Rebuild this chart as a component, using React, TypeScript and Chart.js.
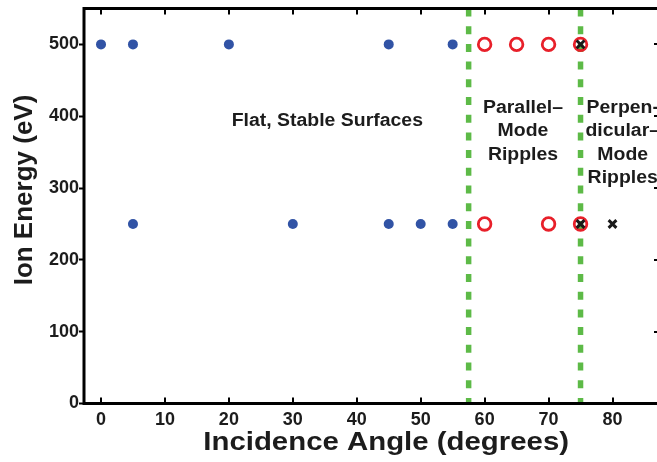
import React, { useEffect, useRef } from "react";
import { Chart, registerables } from "chart.js";

Chart.register(...registerables);

// ---- data ----
const stableAngles500 = [0, 5, 20, 45, 55];
const stableAngles250 = [5, 30, 45, 50, 55];
const parallelAngles500 = [60, 65, 70, 75];
const parallelAngles250 = [60, 70, 75];
const perpAngles500 = [75];
const perpAngles250 = [75, 80];
const boundaryAngles = [57.5, 75];
const xTickValues = [0, 10, 20, 30, 40, 50, 60, 70, 80];
const yTickValues = [0, 100, 200, 300, 400, 500];
const xRange = [-2.66, 86.96];
const yRange = [0, 550];

const xTitle = "Incidence Angle (degrees)";
const yTitle = "Ion Energy (eV)";
const annotations = [
  { lines: ["Flat, Stable Surfaces"], x: 35.4, y: 386 },
  { lines: ["Parallel\u2013", "Mode", "Ripples"], x: 66, y: 404.5 },
  { lines: ["Perpen-", "dicular\u2013", "Mode", "Ripples"], x: 81.6, y: 404.5 },
];

const FONT = '"Liberation Sans", Arial, Helvetica, sans-serif';
const TEXT = "#1c1c1c";

const pts = (xs: number[], y: number) => xs.map((x) => ({ x, y }));

const decorPlugin = {
  id: "decor",
  afterDraw(chart: any) {
    const ctx = chart.ctx as CanvasRenderingContext2D;
    const { left, right, top, bottom } = chart.chartArea;
    const xs = chart.scales.x;
    const ys = chart.scales.y;
    ctx.save();
    // inside ticks
    ctx.strokeStyle = "#000";
    ctx.lineWidth = 2;
    ctx.beginPath();
    for (const v of xTickValues) {
      const px = Math.round(xs.getPixelForValue(v));
      ctx.moveTo(px, bottom);
      ctx.lineTo(px, bottom - 6);
      ctx.moveTo(px, top);
      ctx.lineTo(px, top + 6);
    }
    for (const v of yTickValues) {
      if (v === 0) continue;
      const py = Math.round(ys.getPixelForValue(v));
      ctx.moveTo(right + 2, py);
      ctx.lineTo(right - 3, py);
    }
    ctx.stroke();
    // frame (right side lies just beyond the visible picture)
    ctx.lineWidth = 3;
    ctx.beginPath();
    ctx.moveTo(right + 3, top);
    ctx.lineTo(left, top);
    ctx.lineTo(left, bottom);
    ctx.lineTo(right + 3, bottom);
    ctx.stroke();

    ctx.fillStyle = TEXT;
    // annotations
    ctx.font = `bold 18px ${FONT}`;
    ctx.textAlign = "center";
    ctx.textBaseline = "alphabetic";
    for (const a of annotations) {
      const cx = xs.getPixelForValue(a.x);
      const by = ys.getPixelForValue(a.y);
      a.lines.forEach((line, i) => {
        ctx.save();
        ctx.translate(cx, by + i * 23.4);
        ctx.scale(1.08, 1);
        ctx.fillText(line, 0, 0);
        ctx.restore();
      });
    }
    // x title
    ctx.font = `bold 26px ${FONT}`;
    ctx.save();
    ctx.translate(xs.getPixelForValue(44.6), 450);
    ctx.scale(1.13, 1);
    ctx.fillText(xTitle, 0, 0);
    ctx.restore();
    // y title
    ctx.save();
    ctx.translate(32, 190);
    ctx.rotate(-Math.PI / 2);
    ctx.fillText(yTitle, 0, 0);
    ctx.restore();
    ctx.restore();
  },
};

export default function App() {
  const ref = useRef<HTMLCanvasElement | null>(null);
  useEffect(() => {
    if (!ref.current) return;
    const boundaries = boundaryAngles.map((a) => ({
      type: "scatter" as const,
      data: [
        { x: a, y: yRange[1] },
        { x: a, y: yRange[0] },
      ],
      showLine: true,
      borderColor: "#5dba47",
      borderWidth: 5.5,
      borderDash: [8, 9.7],
      pointRadius: 0,
      order: 10,
    }));
    const chart = new Chart(ref.current, {
      type: "scatter",
      data: {
        datasets: [
          ...boundaries,
          {
            data: [...pts(stableAngles500, 500), ...pts(stableAngles250, 250)],
            pointStyle: "circle",
            pointRadius: 5,
            backgroundColor: "#3153a5",
            borderWidth: 0,
            order: 3,
          },
          {
            data: [...pts(parallelAngles500, 500), ...pts(parallelAngles250, 250)],
            pointStyle: "circle",
            pointRadius: 6.3,
            backgroundColor: "rgba(0,0,0,0)",
            borderColor: "#e8202a",
            borderWidth: 2.8,
            order: 2,
          },
          {
            data: [...pts(perpAngles500, 500), ...pts(perpAngles250, 250)],
            pointStyle: "crossRot",
            pointRadius: 5.5,
            borderColor: "#1a1a1a",
            borderWidth: 3,
            order: 1,
          },
        ],
      } as any,
      options: {
        responsive: false,
        animation: false,
        devicePixelRatio: 1,
        events: [],
        layout: { autoPadding: false, padding: { top: 8.5, right: 0, left: 0, bottom: 0 } },
        plugins: { legend: { display: false }, tooltip: { enabled: false } },
        scales: {
          x: {
            type: "linear",
            min: xRange[0],
            max: xRange[1],
            afterBuildTicks: (s: any) => {
              s.ticks = xTickValues.map((value) => ({ value }));
            },
            afterFit: (s: any) => {
              s.height = 58.5;
              s.paddingLeft = 0;
              s.paddingRight = 0;
            },
            border: { display: false },
            grid: { display: false, drawTicks: false },
            ticks: {
              font: { family: FONT, size: 18, weight: "bold" },
              color: TEXT,
              padding: 6,
              maxRotation: 0,
            },
          },
          y: {
            type: "linear",
            min: yRange[0],
            max: yRange[1],
            afterBuildTicks: (s: any) => {
              s.ticks = yTickValues.map((value) => ({ value }));
            },
            afterFit: (s: any) => {
              s.width = 84;
              s.paddingTop = 0;
              s.paddingBottom = 0;
            },
            border: { display: false },
            grid: {
              drawOnChartArea: false,
              drawTicks: true,
              tickLength: 5,
              tickWidth: 2,
              tickColor: "#000",
            },
            ticks: {
              font: { family: FONT, size: 18, weight: "bold" },
              color: TEXT,
              padding: 0,
            },
          },
        },
      } as any,
      plugins: [decorPlugin],
    });
    return () => chart.destroy();
  }, []);
  return (
    <div
      style={{
        position: "fixed",
        left: 0,
        top: 0,
        width: 657,
        height: 462,
        overflow: "hidden",
        background: "#fff",
      }}
    >
      <canvas ref={ref} width={657} height={462} style={{ width: 657, height: 462, display: "block" }} />
    </div>
  );
}
